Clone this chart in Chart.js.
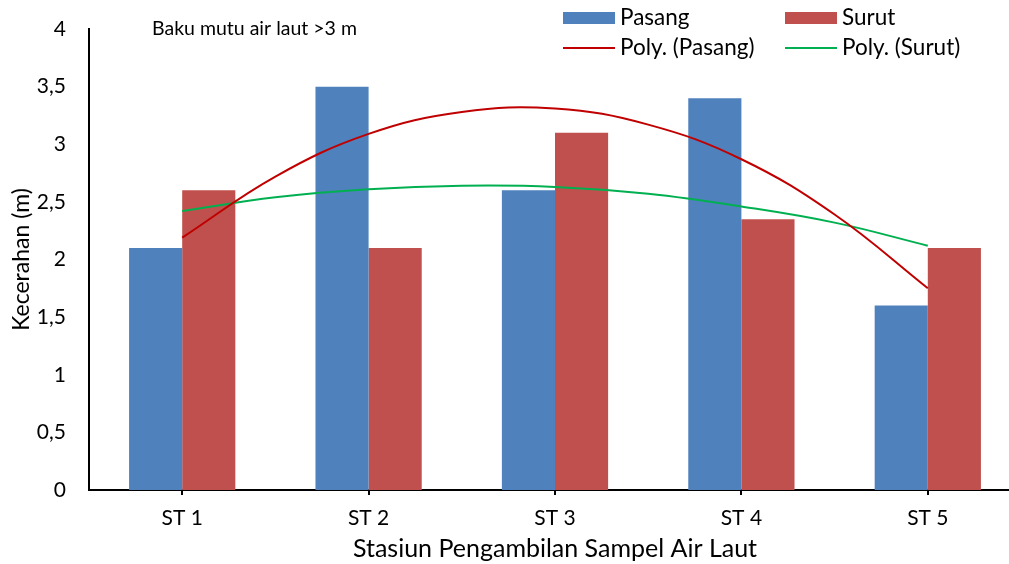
<!DOCTYPE html>
<html>
<head>
<meta charset="utf-8">
<script src="https://cdn.jsdelivr.net/npm/chart.js@4/dist/chart.umd.min.js"></script>
<style>
  html, body { margin: 0; padding: 0; background: #fff; overflow: hidden; }
  #wrap { width: 1022px; height: 564px; position: relative; }
  .layer { position: absolute; left: 0; top: 0; width: 1022px; height: 564px; }
  #trendLayer { pointer-events: none; }
</style>
</head>
<body>
<div id="wrap">
  <div class="layer"><canvas id="bars"></canvas></div>
  <div class="layer" id="trendLayer"><canvas id="trends"></canvas></div>
</div>
<script>
// Stations and water clarity (m) at high tide (Pasang) and low tide (Surut)
const stations = ['ST 1', 'ST 2', 'ST 3', 'ST 4', 'ST 5'];
const pasang = [2.1, 3.5, 2.6, 3.4, 1.6];
const surut = [2.6, 2.1, 3.1, 2.35, 2.1];

// Polynomial trendlines, sampled at half-station steps (1 = ST 1 ... 5 = ST 5)
const trendX = [1, 1.5, 2, 2.5, 3, 3.5, 4, 4.5, 5];
const trendPasang = [2.19, 2.72, 3.09, 3.28, 3.31, 3.17, 2.87, 2.39, 1.75];
const trendSurut = [2.42, 2.54, 2.61, 2.64, 2.63, 2.57, 2.46, 2.32, 2.12];

const yTicks = [0, 0.5, 1, 1.5, 2, 2.5, 3, 3.5, 4];
const note = 'Baku mutu air laut >3 m';

const FONT = 'Lato, Calibri, Carlito, sans-serif';
const BLUE = '#4F81BD', RED = '#C0504D', TRED = '#C00000', TGREEN = '#00B050';

// Shared plot frame (px): both layers use the same chart area
const FRAME = { top: 29, left: 89, right: 1, bottom: 74 };

const toPts = (xs, ys) => xs.map((x, i) => ({ x: x, y: ys[i] }));

const legendItems = [
  { label: 'Pasang', color: BLUE, kind: 'box', col: 0, row: 0 },
  { label: 'Surut', color: RED, kind: 'box', col: 1, row: 0 },
  { label: 'Poly. (Pasang)', color: TRED, kind: 'line', col: 0, row: 1 },
  { label: 'Poly. (Surut)', color: TGREEN, kind: 'line', col: 1, row: 1 }
];

const legendAndNote = {
  id: 'legendAndNote',
  afterDraw(chart) {
    const ctx = chart.ctx;
    ctx.save();
    ctx.font = '22.5px ' + FONT;
    ctx.textBaseline = 'middle';
    ctx.textAlign = 'left';
    const cols = [563, 785];
    const rows = [18, 48];
    legendItems.forEach(it => {
      const x = cols[it.col], y = rows[it.row];
      if (it.kind === 'box') {
        ctx.fillStyle = it.color;
        ctx.fillRect(x, y - 6, 52, 12);
      } else {
        ctx.strokeStyle = it.color;
        ctx.lineWidth = 2;
        ctx.beginPath();
        ctx.moveTo(x, y);
        ctx.lineTo(x + 52, y);
        ctx.stroke();
      }
      ctx.fillStyle = '#000';
      ctx.fillText(it.label, x + 57, y);
    });
    ctx.font = '19.5px ' + FONT;
    ctx.fillText(note, 152, 29);
    ctx.restore();
  }
};

// Bar layer with axes
new Chart(document.getElementById('bars'), {
  type: 'bar',
  data: {
    labels: stations,
    datasets: [
      { label: 'Pasang', data: pasang, backgroundColor: BLUE, borderWidth: 0 },
      { label: 'Surut', data: surut, backgroundColor: RED, borderWidth: 0 }
    ]
  },
  options: {
    responsive: true,
    maintainAspectRatio: false,
    animation: false,
    layout: { padding: { top: FRAME.top, right: FRAME.right, left: 0, bottom: 0 } },
    datasets: { bar: { categoryPercentage: 0.57, barPercentage: 1 } },
    plugins: { legend: { display: false }, title: { display: false }, tooltip: { enabled: false } },
    scales: {
      x: {
        type: 'category',
        offset: true,
        grid: { display: true, drawOnChartArea: false, drawTicks: true, tickLength: 5, offset: false, color: '#000', lineWidth: 2 },
        border: { display: true, color: '#000', width: 2 },
        ticks: { color: '#000', font: { family: FONT, size: 21 }, padding: 11 },
        title: { display: true, text: 'Stasiun Pengambilan Sampel Air Laut', color: '#000',
                 font: { family: FONT, size: 25 }, padding: { top: 0, bottom: 0 } },
        afterFit(s) { s.height = FRAME.bottom; }
      },
      y: {
        min: 0,
        max: 4,
        afterBuildTicks(s) { s.ticks = yTicks.map(v => ({ value: v })); },
        grid: { display: false, drawTicks: false },
        border: { display: true, color: '#000', width: 2 },
        ticks: {
          color: '#000', font: { family: FONT, size: 21 }, padding: 23,
          callback: v => String(v).replace('.', ',')
        },
        title: { display: true, text: 'Kecerahan (m)', color: '#000',
                 font: { family: FONT, size: 23 }, padding: { top: 8, bottom: 0 } },
        afterFit(s) { s.width = FRAME.left; s.paddingTop = 0; s.paddingBottom = 0; }
      }
    }
  },
  plugins: [legendAndNote]
});

// Trendline layer on the same frame; x runs over station positions 0.5 .. 5.5
new Chart(document.getElementById('trends'), {
  type: 'line',
  data: {
    datasets: [
      { label: 'Poly. (Pasang)', data: toPts(trendX, trendPasang),
        borderColor: TRED, borderWidth: 2, pointRadius: 0, tension: 0.4, fill: false },
      { label: 'Poly. (Surut)', data: toPts(trendX, trendSurut),
        borderColor: TGREEN, borderWidth: 2, pointRadius: 0, tension: 0.4, fill: false }
    ]
  },
  options: {
    responsive: true,
    maintainAspectRatio: false,
    animation: false,
    events: [],
    layout: { padding: { top: FRAME.top, left: FRAME.left, right: FRAME.right, bottom: FRAME.bottom } },
    plugins: { legend: { display: false }, title: { display: false }, tooltip: { enabled: false } },
    scales: {
      x: { type: 'linear', display: false, offset: false, min: 0.5, max: 5.5 },
      y: { type: 'linear', display: false, min: 0, max: 4 }
    }
  }
});
</script>
</body>
</html>
